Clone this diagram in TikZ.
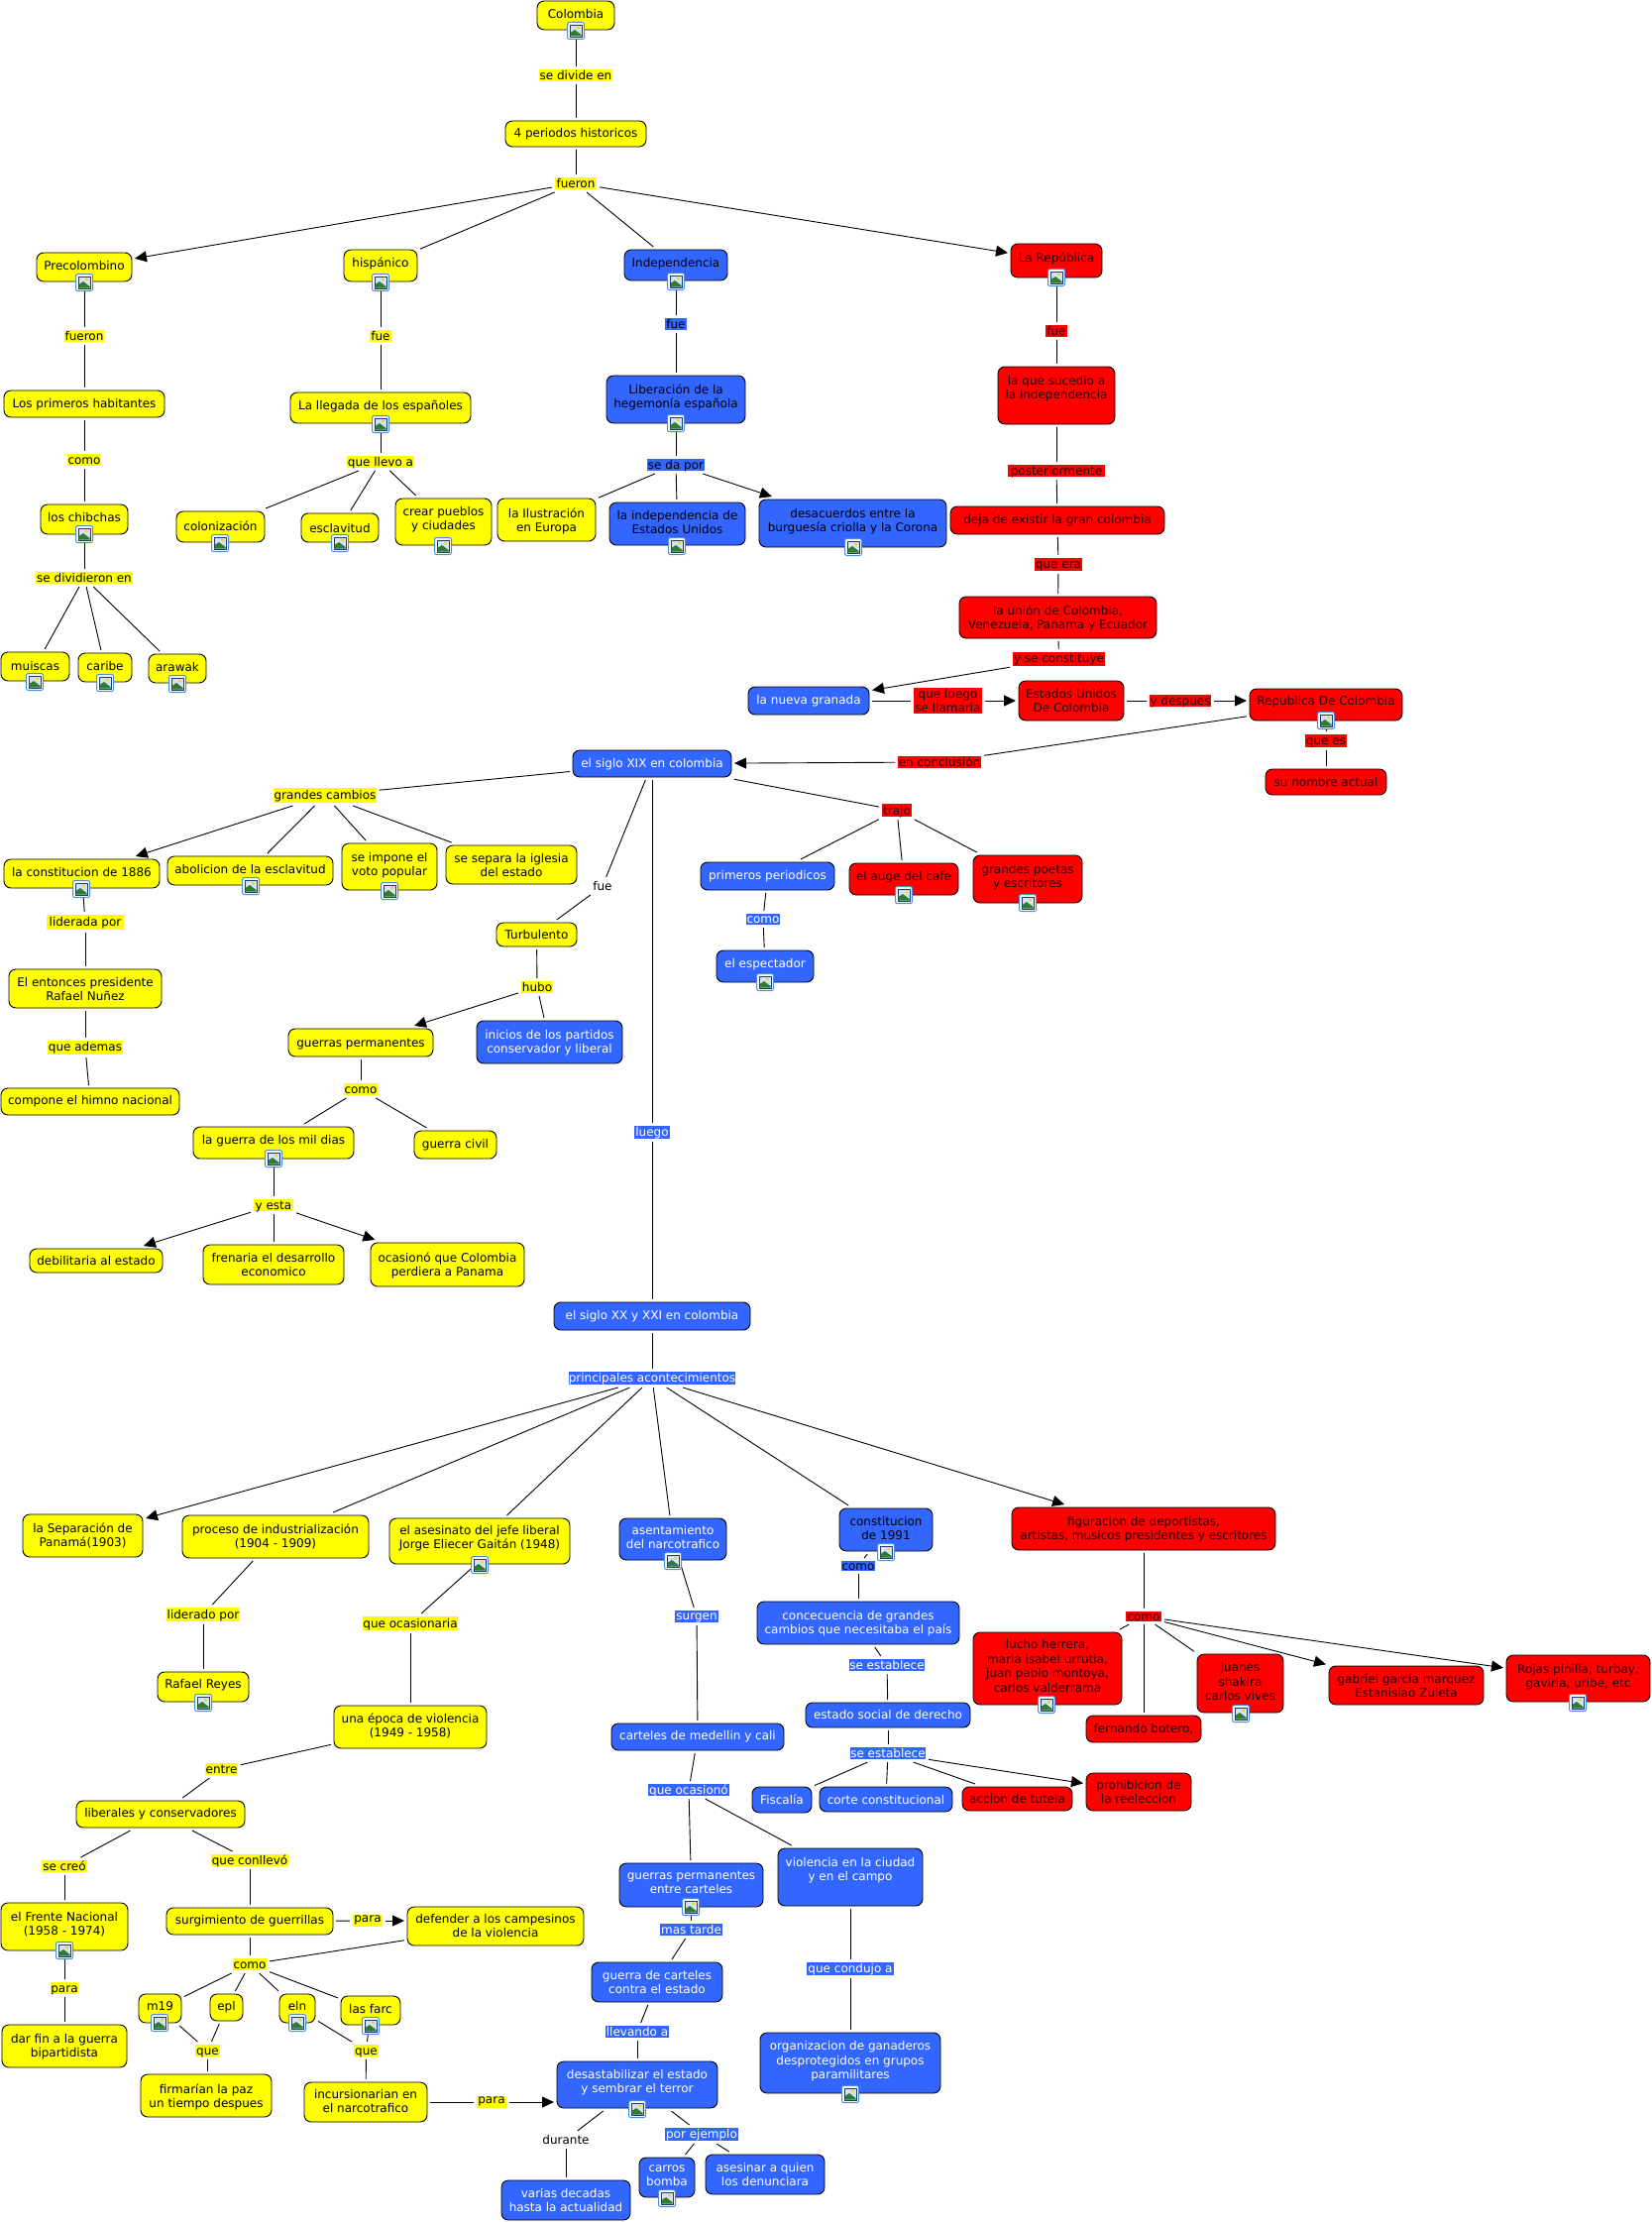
\documentclass[tikz,border=0pt]{standalone}
\usepackage{fontspec}
\setmainfont{DejaVu Sans}
\usetikzlibrary{arrows.meta}
\definecolor{cy}{HTML}{FFFF00}
\definecolor{cb}{HTML}{3366FF}
\definecolor{cr}{HTML}{FF0000}
\definecolor{icb}{HTML}{4A90D9}
\definecolor{ics}{HTML}{D5E3F5}
\definecolor{icd}{HTML}{1F3A6E}
\definecolor{icg}{HTML}{2E7D32}
\definecolor{ics2}{HTML}{F2D21A}
\tikzset{
 base/.style={inner sep=0pt,outer sep=3pt,font=\fontsize{12}{14.5}\selectfont},
 cbox/.style={base,draw=black,line width=0.9pt,rounded corners=7pt},
 yn/.style={cbox,fill=cy,text=black},
 bn/.style={cbox,fill=cb,text=white},
 bd/.style={cbox,fill=cb,text=black},
 rn/.style={cbox,fill=cr,text=black!85!red},
 ly/.style={base,fill=cy,text=black},
 lb/.style={base,fill=cb,text=white},
 ld/.style={base,fill=cb,text=black},
 lr/.style={base,fill=cr,text=black!85!red},
 ln/.style={base,text=black},
 con/.style={draw=black,line width=0.9pt},
 arr/.style={con,-{Triangle[length=12pt,width=11pt]}},
}
\newcommand{\cn}[8]{%
 \pgfmathsetmacro\tw{#5-#3}\pgfmathsetmacro\th{#6-#4}%
 \pgfmathsetmacro\cxx{(#3+#5)/2}\pgfmathsetmacro\cyy{(#4+#6)/2}%
 \pgfmathsetmacro\rr{\cyy-#7-4.4}%
 \node[#1,minimum width=\tw pt,minimum height=\th pt] (#2) at (\cxx,\cyy)
 {\makebox[0pt][c]{\raisebox{\rr pt}[0pt][0pt]{\begin{tabular}{@{}c@{}}#8\end{tabular}}}};}
\newcommand{\ic}[2]{\begin{scope}[shift={(#1,#2)}]
 \fill[white,draw=icb,line width=1pt,rounded corners=2pt] (-8.5,-8.5) rectangle (8.5,8.5);
 \fill[ics,draw=icd,line width=0.9pt] (-6,-6) rectangle (6,6);
 \fill[icg] (-5.5,5.5) -- (-5.5,2) -- (-1,-1) -- (5.5,4) -- (5.5,5.5) -- cycle;
 \fill[ics2] (2.5,-3) circle (1.7);
\end{scope}}
\begin{document}
\begin{tikzpicture}[x=1pt,y=-1pt]
\useasboundingbox (0,0) rectangle (1666,2242);
\fill[white] (0,0) rectangle (1666,2242);
% concepts top
\cn{yn}{colombia}{542}{1}{620}{30}{14}{Colombia}
\cn{ly}{ldivide}{544}{70}{618}{82}{76}{se divide en}
\cn{yn}{periodos}{510}{122}{652}{148}{134}{4 periodos historicos}
\cn{ly}{lfueron}{560}{179}{602}{191}{185}{fueron}
\cn{yn}{precol}{37}{255}{133}{284}{268}{Precolombino}
\cn{ly}{lfueronb}{65}{333}{105}{345}{339}{fueron}
\cn{yn}{habit}{4}{394}{166}{421}{407}{Los primeros habitantes}
\cn{ly}{lcomoa}{68}{458}{102}{470}{464}{como}
\cn{yn}{chibchas}{41}{509}{129}{539}{522}{los chibchas}
\cn{ly}{ldivid}{36}{577}{134}{589}{583}{se dividieron en}
\cn{yn}{muiscas}{1}{658}{70}{687}{672}{muiscas}
\cn{yn}{caribe}{79}{659}{133}{688}{672}{caribe}
\cn{yn}{arawak}{150}{660}{208}{689}{673}{arawak}
\cn{yn}{hispanico}{347}{252}{421}{284}{265}{hispánico}
\cn{ly}{lfuea}{373}{333}{395}{345}{339}{fue}
\cn{yn}{llegada}{293}{396}{475}{427}{409}{La llegada de los españoles}
\cn{ly}{lllevo}{350}{460}{418}{472}{466}{que llevo a}
\cn{yn}{coloniz}{178}{516}{267}{547}{531}{colonización}
\cn{yn}{esclav}{304}{518}{382}{547}{533}{esclavitud}
\cn{yn}{crear}{399}{503}{496}{550}{523}{crear pueblos\\y ciudades}
\cn{yn}{ilustra}{502}{503}{601}{546}{525}{la Ilustración\\en Europa}
\cn{bd}{indepu}{615}{507}{752}{550}{527}{la independencia de\\Estados Unidos}
\cn{bd}{indep}{630}{252}{734}{283}{265}{Independencia}
\cn{ld}{lfueb}{671}{321}{693}{333}{327}{fue}
\cn{bd}{libera}{612}{379}{752}{427}{400}{Liberación de la\\hegemonía española}
\cn{ld}{lseda}{653}{463}{711}{475}{469}{se da por}
\cn{bd}{desac}{766}{504}{955}{552}{525}{desacuerdos entre la\\burguesía criolla y la Corona}
\cn{rn}{republica}{1020}{246}{1112}{280}{260}{La República}
\cn{lr}{lfuer}{1055}{328}{1077}{340}{334}{fue}
\cn{rn}{sucedio}{1007}{370}{1125}{428}{391}{la que sucedio a\\la independencia}
\cn{lr}{lpost}{1017}{469}{1115}{481}{475}{posteriormente}
\cn{rn}{deja}{959}{511}{1175}{539}{524}{deja de existir la gran colombia}
\cn{lr}{lera}{1044}{563}{1092}{576}{569}{que era}
\cn{rn}{union}{968}{602}{1167}{644}{623}{la unión de Colombia,\\Venezuela, Panama y Ecuador}
\cn{lr}{lconst}{1022}{658}{1115}{672}{664}{y se constituye}
\cn{bn}{nueva}{755}{693}{877}{721}{706}{la nueva granada}
\cn{lr}{lluego}{922}{694}{991}{720}{707}{que luego\\se llamaria}
\cn{rn}{eeuu}{1028}{687}{1134}{727}{707}{Estados Unidos\\De Colombia}
\cn{lr}{ldesp}{1160}{701}{1222}{713}{707}{y despues}
\cn{rn}{repcol}{1261}{695}{1415}{727}{707}{Republica De Colombia}
\cn{lr}{lques}{1317}{741}{1359}{754}{747}{que es}
\cn{rn}{nombre}{1277}{776}{1399}{802}{789}{su nombre actual}
\cn{lr}{lconcl}{906}{763}{990}{775}{769}{en conclusión}
\cn{bn}{xix}{578}{757}{738}{784}{770}{el siglo XIX en colombia}
\cn{lr}{ltrajo}{890}{811}{920}{824}{818}{trajo}
\cn{bn}{periodicos}{707}{870}{842}{898}{883}{primeros periodicos}
\cn{rn}{auge}{857}{871}{967}{903}{884}{el auge del cafe}
\cn{rn}{poetas}{982}{863}{1092}{911}{884}{grandes poetas\\y escritores}
\cn{lb}{lcomob}{753}{922}{787}{933}{927}{como}
\cn{bn}{espect}{723}{959}{821}{991}{972}{el espectador}
\cn{lb}{lluegob}{640}{1136}{676}{1149}{1142}{luego}
% XIX left
\cn{ly}{lgrandes}{276}{795}{380}{810}{802}{grandes cambios}
\cn{yn}{c1886}{4}{867}{161}{896}{880}{la constitucion de 1886}
\cn{yn}{abolic}{169}{864}{336}{893}{877}{abolicion de la esclavitud}
\cn{yn}{impone}{345}{851}{441}{898}{872}{se impone el\\voto popular}
\cn{yn}{separa}{450}{853}{582}{892}{873}{se separa la iglesia\\del estado}
\cn{ly}{llider}{47}{923}{125}{938}{930}{liderada por }
\cn{yn}{entonces}{9}{978}{163}{1017}{998}{El entonces presidente\\Rafael Nuñez}
\cn{ly}{lademas}{48}{1050}{124}{1064}{1056}{que ademas}
\cn{yn}{himno}{1}{1098}{181}{1125}{1110}{compone el himno nacional}
\cn{ln}{lfuec}{595}{888}{621}{900}{894}{fue}
\cn{yn}{turbul}{501}{931}{582}{955}{943}{Turbulento}
\cn{ly}{lhubo}{526}{990}{558}{1002}{996}{hubo}
\cn{yn}{guerrasp}{291}{1038}{437}{1066}{1052}{guerras permanentes}
\cn{bn}{inicios}{481}{1030}{628}{1073}{1051}{inicios de los partidos\\conservador y liberal}
\cn{ly}{lcomoc}{347}{1093}{381}{1105}{1099}{como}
\cn{yn}{mildias}{195}{1137}{357}{1169}{1150}{la guerra de los mil dias}
\cn{yn}{civil}{418}{1141}{501}{1169}{1154}{guerra civil}
\cn{ly}{lyesta}{256}{1210}{296}{1222}{1216}{y esta}
\cn{yn}{debilit}{30}{1260}{164}{1284}{1272}{debilitaria al estado}
\cn{yn}{frenaria}{205}{1256}{347}{1296}{1276}{frenaria el desarrollo\\economico}
\cn{yn}{ocasiono}{374}{1254}{529}{1298}{1276}{ocasionó que Colombia\\perdiera a Panama}
\cn{bn}{xx}{559}{1314}{757}{1342}{1327}{el siglo XX y XXI en colombia}
\cn{lb}{lprinc}{574}{1384}{742}{1397}{1390}{principales acontecimientos}
% bottom left
\cn{yn}{separac}{23}{1528}{144}{1571}{1549}{la Separación de\\Panamá(1903)}
\cn{yn}{proceso}{184}{1529}{372}{1572}{1550}{proceso de industrialización\\(1904 - 1909)}
\cn{yn}{asesin}{393}{1532}{575}{1578}{1551}{el asesinato del jefe liberal\\Jorge Eliecer Gaitán (1948)}
\cn{ly}{llidero}{168}{1622}{242}{1636}{1629}{liderado por}
\cn{yn}{reyes}{159}{1687}{251}{1717}{1699}{Rafael Reyes}
\cn{ly}{locas}{366}{1631}{462}{1645}{1638}{que ocasionaria}
\cn{yn}{epoca}{337}{1721}{491}{1764}{1741}{una época de violencia\\(1949 - 1958)}
\cn{ly}{lentre}{207}{1779}{240}{1791}{1785}{entre}
\cn{yn}{liberales}{77}{1817}{247}{1844}{1829}{liberales y conservadores}
\cn{ly}{lcreo}{42}{1877}{88}{1889}{1883}{se creó}
\cn{ly}{lconll}{213}{1871}{291}{1883}{1877}{que conllevó}
\cn{yn}{frente}{1}{1920}{129}{1968}{1941}{el Frente Nacional\\(1958 - 1974)}
\cn{ly}{lparaa}{51}{2000}{79}{2012}{2006}{para}
\cn{yn}{darfin}{2}{2043}{128}{2086}{2064}{dar fin a la guerra\\bipartidista}
\cn{yn}{surgim}{168}{1925}{336}{1952}{1937}{surgimiento de guerrillas}
\cn{ly}{lparab}{356}{1932}{386}{1944}{1935}{para}
\cn{yn}{defender}{411}{1924}{589}{1963}{1943}{defender a los campesinos\\de la violencia}
\cn{ly}{lcomod}{235}{1976}{269}{1988}{1982}{como}
\cn{yn}{meun}{140}{2012}{183}{2041}{2024}{m19}
\cn{yn}{epl}{212}{2012}{245}{2039}{2024}{epl}
\cn{yn}{eln}{282}{2012}{318}{2041}{2024}{eln}
\cn{yn}{farc}{344}{2014}{404}{2043}{2027}{las farc}
\cn{ly}{lquea}{197}{2063}{222}{2075}{2069}{que}
\cn{ly}{lqueb}{357}{2063}{382}{2075}{2069}{que}
\cn{yn}{firmar}{142}{2093}{274}{2136}{2115}{firmarían la paz\\un tiempo despues}
\cn{yn}{incurs}{307}{2101}{431}{2141}{2120}{incursionarian en\\el narcotrafico}
\cn{ly}{lparac}{481}{2115}{511}{2127}{2118}{para}
% bottom middle
\cn{bn}{asent}{625}{1532}{733}{1574}{1551}{asentamiento\\del narcotrafico}
\cn{lb}{lsurgen}{681}{1625}{725}{1637}{1630}{surgen}
\cn{bn}{carteles}{617}{1739}{791}{1766}{1751}{carteles de medellin y cali}
\cn{lb}{locasb}{654}{1800}{736}{1812}{1806}{que ocasionó}
\cn{bn}{guerrasc}{625}{1880}{770}{1924}{1899}{guerras permanentes\\entre carteles}
\cn{lb}{ltarde}{666}{1941}{729}{1953}{1947}{mas tarde}
\cn{bn}{violen}{785}{1865}{931}{1923}{1886}{violencia en la ciudad\\y en el campo}
\cn{bn}{guerrace}{597}{1980}{729}{2020}{2000}{guerra de carteles\\contra el estado}
\cn{lb}{lllevando}{611}{2044}{675}{2056}{2050}{llevando a}
\cn{lb}{lcondujo}{814}{1980}{902}{1993}{1986}{que condujo a}
\cn{bn}{organiz}{767}{2051}{949}{2112}{2079}{organizacion de ganaderos\\desprotegidos en grupos\\paramilitares}
\cn{bn}{desest}{562}{2080}{724}{2127}{2100}{desastabilizar el estado\\y sembrar el terror}
\cn{ln}{ldurante}{546}{2153}{596}{2165}{2159}{durante}
\cn{lb}{lejemplo}{671}{2147}{745}{2160}{2153}{por ejemplo}
\cn{bn}{varias}{506}{2200}{636}{2240}{2220}{varias decadas\\hasta la actualidad}
\cn{bn}{carros}{645}{2177}{701}{2217}{2194}{carros\\bomba}
\cn{bn}{asesinar}{712}{2174}{832}{2214}{2194}{asesinar a quien\\los denunciara}
\cn{bd}{cnov}{847}{1522}{941}{1565}{1542}{constitucion\\de 1991}
\cn{ld}{lcomoe}{849}{1575}{883}{1585}{1580}{como}
\cn{bn}{conse}{764}{1616}{968}{1659}{1637}{concecuencia de grandes\\cambios que necesitaba el país}
\cn{lb}{lestab}{857}{1674}{933}{1686}{1680}{se establece}
\cn{bn}{social}{813}{1718}{979}{1743}{1730}{estado social de derecho}
\cn{lb}{lestabb}{858}{1763}{934}{1775}{1769}{se establece}
\cn{bn}{fiscal}{759}{1803}{819}{1829}{1816}{Fiscalía}
\cn{bn}{corte}{827}{1803}{961}{1828}{1816}{corte constitucional}
\cn{rn}{tutela}{971}{1803}{1082}{1827}{1815}{accion de tutela}
\cn{rn}{prohib}{1096}{1789}{1202}{1827}{1808}{prohibicion de\\la reeleccion}
\cn{rn}{figura}{1021}{1521}{1287}{1564}{1542}{figuracion de deportistas,\\artistas, musicos presidentes y escritores}
\cn{lr}{lcomof}{1136}{1626}{1172}{1636}{1631}{como}
\cn{rn}{lucho}{982}{1647}{1132}{1720}{1681}{lucho herrera,\\maria isabel urrutia,\\juan pablo montoya,\\carlos valderrama}
\cn{rn}{botero}{1096}{1731}{1212}{1758}{1744}{fernando botero,}
\cn{rn}{juanes}{1208}{1669}{1295}{1728}{1697}{juanes\\shakira\\carlos vives}
\cn{rn}{gabriel}{1341}{1681}{1497}{1720}{1701}{gabriel garcia marquez\\Estanislao Zuleta}
\cn{rn}{rojas}{1520}{1670}{1665}{1717}{1691}{Rojas pinilla, turbay,\\gaviria, uribe, etc}
% connectors
\draw[con] (colombia) -- (ldivide);
\draw[con] (ldivide) -- (periodos);
\draw[con] (periodos) -- (lfueron);
\draw[arr] (lfueron) -- (precol);
\draw[con] (lfueron) -- (hispanico);
\draw[con] (lfueron) -- (indep);
\draw[arr] (lfueron) -- (republica);
\draw[con] (precol) -- (lfueronb);
\draw[con] (lfueronb) -- (habit);
\draw[con] (habit) -- (lcomoa);
\draw[con] (lcomoa) -- (chibchas);
\draw[con] (chibchas) -- (ldivid);
\draw[con] (ldivid) -- (muiscas);
\draw[con] (ldivid) -- (caribe);
\draw[con] (ldivid) -- (arawak);
\draw[con] (hispanico) -- (lfuea);
\draw[con] (lfuea) -- (llegada);
\draw[con] (llegada) -- (lllevo);
\draw[con] (lllevo) -- (coloniz);
\draw[con] (lllevo) -- (esclav);
\draw[con] (lllevo) -- (crear);
\draw[con] (indep) -- (lfueb);
\draw[con] (lfueb) -- (libera);
\draw[con] (libera) -- (lseda);
\draw[con] (lseda) -- (ilustra);
\draw[con] (lseda) -- (indepu);
\draw[arr] (lseda) -- (desac);
\draw[con] (republica) -- (lfuer);
\draw[con] (lfuer) -- (sucedio);
\draw[con] (sucedio) -- (lpost);
\draw[con] (lpost) -- (deja);
\draw[con] (deja) -- (lera);
\draw[con] (lera) -- (union);
\draw[con] (union) -- (lconst);
\draw[arr] (lconst) -- (nueva);
\draw[con] (nueva) -- (lluego);
\draw[arr] (lluego) -- (eeuu);
\draw[con] (eeuu) -- (ldesp);
\draw[arr] (ldesp) -- (repcol.west |- ldesp);
\draw[con] (repcol) -- (lconcl);
\draw[arr] (lconcl) -- (xix);
\draw[con] (repcol) -- (lques);
\draw[con] (lques) -- (nombre);
\draw[con] (xix) -- (ltrajo);
\draw[con] (ltrajo) -- (periodicos);
\draw[con] (ltrajo) -- (auge);
\draw[con] (ltrajo) -- (poetas);
\draw[con] (periodicos) -- (lcomob);
\draw[con] (lcomob) -- (espect);
\draw[con] (xix) -- (lluegob);
\draw[con] (lluegob) -- (xx);
\draw[con] (xix) -- (lgrandes);
\draw[arr] (lgrandes) -- (c1886);
\draw[con] (lgrandes) -- (abolic);
\draw[con] (lgrandes) -- (impone);
\draw[con] (lgrandes) -- (separa);
\draw[con] (c1886) -- (llider);
\draw[con] (llider) -- (entonces);
\draw[con] (entonces) -- (lademas);
\draw[con] (lademas) -- (himno);
\draw[con] (xix) -- (lfuec);
\draw[con] (lfuec) -- (turbul);
\draw[con] (turbul) -- (lhubo);
\draw[arr] (lhubo) -- (guerrasp);
\draw[con] (lhubo) -- (inicios);
\draw[con] (guerrasp) -- (lcomoc);
\draw[con] (lcomoc) -- (mildias);
\draw[con] (lcomoc) -- (civil);
\draw[con] (mildias) -- (lyesta);
\draw[arr] (lyesta) -- (debilit);
\draw[con] (lyesta) -- (frenaria);
\draw[arr] (lyesta) -- (ocasiono);
\draw[con] (xx) -- (lprinc);
\draw[arr] (lprinc) -- (separac);
\draw[con] (lprinc) -- (proceso);
\draw[con] (lprinc) -- (asesin);
\draw[con] (lprinc) -- (asent);
\draw[con] (lprinc) -- (cnov);
\draw[arr] (lprinc) -- (figura);
\draw[con] (proceso) -- (llidero);
\draw[con] (llidero) -- (reyes);
\draw[con] ([yshift=-20pt]asesin.center) -- (locas);
\draw[con] (locas) -- (epoca);
\draw[con] (epoca) -- (lentre);
\draw[con] (lentre) -- (liberales);
\draw[con] (liberales) -- (lcreo);
\draw[con] (lcreo) -- (frente);
\draw[con] (frente) -- (lparaa);
\draw[con] (lparaa) -- (darfin);
\draw[con] (liberales) -- (lconll);
\draw[con] (lconll) -- (surgim);
\draw[con] (surgim) -- (lparab);
\draw[arr] (lparab) -- (defender.west |- lparab);
\draw[con] (surgim) -- (lcomod);
\draw[con] (defender) -- (lcomod);
\draw[con] (lcomod) -- (meun);
\draw[con] (lcomod) -- (epl);
\draw[con] (lcomod) -- (eln);
\draw[con] (lcomod) -- (farc);
\draw[con] (meun) -- (lquea);
\draw[con] (epl) -- (lquea);
\draw[con] (lquea) -- (lquea |- firmar.north);
\draw[con] (eln) -- (lqueb);
\draw[con] (farc) -- (lqueb);
\draw[con] (lqueb) -- (incurs);
\draw[con] (incurs) -- (lparac);
\draw[arr] (lparac) -- (desest.west |- lparac);
\draw[con] (asent) -- (lsurgen);
\draw[con] (lsurgen) -- (carteles);
\draw[con] (carteles) -- (locasb);
\draw[con] (locasb) -- (guerrasc);
\draw[con] (locasb) -- (violen);
\draw[con] (guerrasc) -- (ltarde);
\draw[con] (ltarde) -- (guerrace);
\draw[con] (guerrace) -- (lllevando);
\draw[con] (lllevando) -- (desest);
\draw[con] (violen) -- (lcondujo);
\draw[con] (lcondujo) -- (organiz);
\draw[con] (desest) -- (ldurante);
\draw[con] (ldurante) -- (varias);
\draw[con] (desest) -- (lejemplo);
\draw[con] (lejemplo) -- (carros);
\draw[con] (lejemplo) -- (asesinar);
\draw[con] (cnov) -- (lcomoe);
\draw[con] (lcomoe) -- (conse);
\draw[con] (conse) -- (lestab);
\draw[con] (lestab) -- (social);
\draw[con] (social) -- (lestabb);
\draw[con] (lestabb) -- (fiscal);
\draw[con] (lestabb) -- (corte);
\draw[con] (lestabb) -- (tutela);
\draw[arr] (lestabb) -- (prohib);
\draw[con] (figura) -- (lcomof);
\draw[con] (lcomof) -- (lucho);
\draw[con] (lcomof) -- (botero);
\draw[con] (lcomof) -- (juanes);
\draw[arr] (lcomof) -- (gabriel);
\draw[arr] (lcomof) -- (rojas);
% icons
\ic{581}{31}\ic{85}{285}\ic{85}{539}\ic{35}{688}\ic{106}{689}\ic{179}{690}
\ic{384}{285}\ic{384}{428}\ic{222}{548}\ic{343}{548}\ic{447}{551}\ic{683}{551}
\ic{682}{284}\ic{682}{427}\ic{861}{552}\ic{1066}{280}\ic{1338}{727}
\ic{912}{903}\ic{1037}{911}\ic{772}{991}
\ic{82}{897}\ic{253}{894}\ic{393}{899}\ic{276}{1169}
\ic{484}{1579}\ic{205}{1718}\ic{65}{1968}\ic{161}{2041}\ic{300}{2041}\ic{374}{2044}
\ic{679}{1575}\ic{697}{1924}\ic{858}{2113}\ic{643}{2128}\ic{673}{2218}\ic{894}{1566}
\ic{1056}{1720}\ic{1252}{1729}\ic{1592}{1718}
\end{tikzpicture}
\end{document}
